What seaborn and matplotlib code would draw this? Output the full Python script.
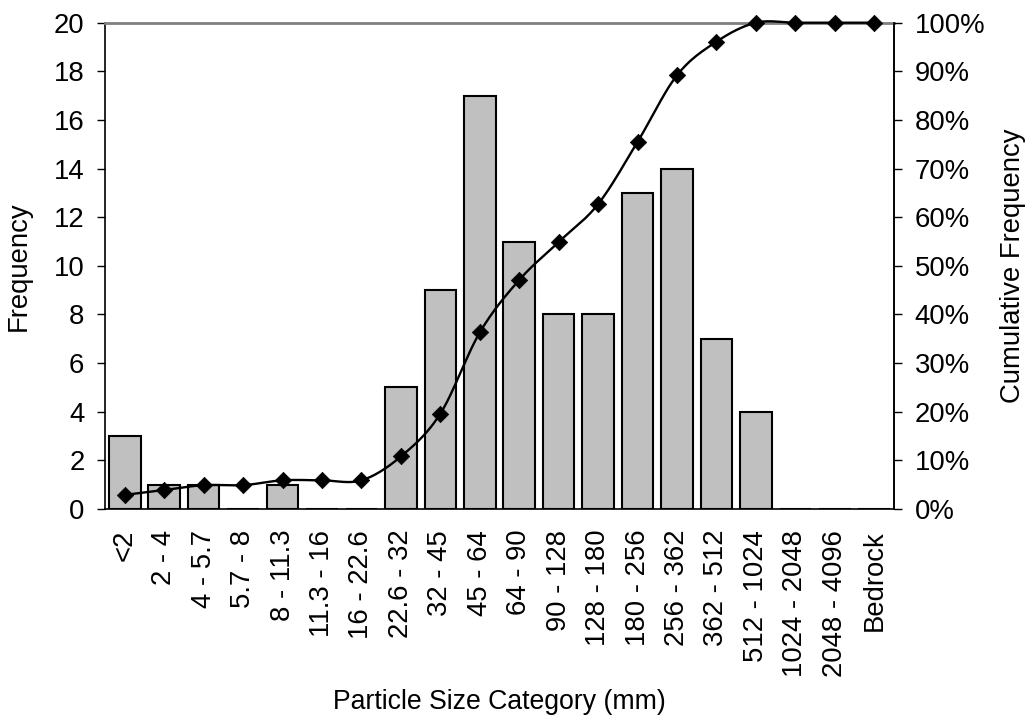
import numpy as np
import pandas as pd
import matplotlib
matplotlib.use("Agg")
import matplotlib.pyplot as plt
import matplotlib.ticker as mticker
import seaborn as sns

# particle size classes (mm)
categories = ['<2', '2 - 4', '4 - 5.7', '5.7 - 8', '8 - 11.3', '11.3 - 16',
              '16 - 22.6', '22.6 - 32', '32 - 45', '45 - 64', '64 - 90',
              '90 - 128', '128 - 180', '180 - 256', '256 - 362', '362 - 512',
              '512 - 1024', '1024 - 2048', '2048 - 4096', 'Bedrock']
frequency = [3, 1, 1, 0, 1, 0, 0, 5, 9, 17, 11, 8, 8, 13, 14, 7, 4, 0, 0, 0]
cumulative = [0.029, 0.039, 0.049, 0.049, 0.059, 0.059, 0.059, 0.108, 0.196,
              0.363, 0.471, 0.549, 0.627, 0.755, 0.892, 0.961, 1.0, 1.0, 1.0, 1.0]

df = pd.DataFrame({'Category': categories, 'Frequency': frequency,
                   'Cumulative': cumulative})

FS = 19.8

sns.set_style("white")
plt.rcParams['font.family'] = ['Liberation Sans', 'DejaVu Sans']
plt.rcParams['font.size'] = FS
plt.rcParams['text.color'] = 'black'
plt.rcParams['axes.labelcolor'] = 'black'
plt.rcParams['xtick.color'] = 'black'
plt.rcParams['ytick.color'] = 'black'

fig = plt.figure(figsize=(10.32, 7.23), dpi=100)
ax = fig.add_axes([105 / 1032, 1 - 509 / 723, 789 / 1032, 486.3 / 723])

sns.barplot(data=df, x='Category', y='Frequency', order=categories,
            color='#c0c0c0', saturation=1, edgecolor='black', linewidth=1.5,
            width=0.8, ax=ax)
ax.set_xlim(-0.5, len(categories) - 0.5)
ax.set_ylim(0, 20)
ax.set_yticks(np.arange(0, 21, 2))

# x axis: labels at centres, ticks between categories
ax.set_xticks(range(len(categories)))
ax.set_xticklabels(categories, rotation=90)
ax.set_xticks(np.arange(-0.5, len(categories), 1), minor=True)
ax.tick_params(axis='x', which='major', length=0, pad=15, labelsize=FS)
ax.tick_params(axis='x', which='minor', direction='inout', length=12,
               width=1, color='black')
ax.tick_params(axis='y', direction='out', length=5.8, width=1,
               color='black', pad=9, labelsize=FS, left=True)

for side in ['left', 'bottom', 'right']:
    ax.spines[side].set_color('black')
    ax.spines[side].set_linewidth(1.2)
ax.spines['top'].set_color('#808080')
ax.spines['top'].set_linewidth(2)

ax.set_xlabel('Particle Size Category (mm)', fontsize=19.2)
ax.xaxis.set_label_coords(0.5, -(689 - 509) / 486.3)
ax.set_ylabel('Frequency', fontsize=FS)
ax.yaxis.set_label_coords(-(105 - 32) / 789, 0.5)

# cumulative curve on secondary axis
ax2 = ax.twinx()
ax2.set_ylim(0, 1)
ax2.set_yticks(np.arange(0, 1.01, 0.1))
ax2.yaxis.set_major_formatter(mticker.PercentFormatter(1.0, decimals=0))
ax2.tick_params(axis='y', direction='out', length=5.8, width=1,
                color='black', pad=9, labelsize=FS, right=True)
for s in ax2.spines.values():
    s.set_visible(False)
ax2.spines['right'].set_visible(True)
ax2.spines['right'].set_color('black')
ax2.spines['right'].set_linewidth(1.2)

# smoothed line like a spreadsheet "smoothed line" (bezier through points)
sx, sy = 39.45, 486.3
px = np.arange(len(categories)) * sx
py = np.array(cumulative) * sy
pts = np.column_stack([px, py])
padded = np.vstack([pts[0], pts, pts[-1]])
tt = np.linspace(0, 1, 25)
curve = []
for i in range(len(pts) - 1):
    p0, p1, p2, p3 = padded[i], padded[i + 1], padded[i + 2], padded[i + 3]
    c1 = p1 + (p2 - p0) / 6
    c2 = p2 - (p3 - p1) / 6
    seg = ((1 - tt)[:, None] ** 3 * p1 + 3 * ((1 - tt) ** 2 * tt)[:, None] * c1
           + 3 * ((1 - tt) * tt ** 2)[:, None] * c2 + (tt ** 3)[:, None] * p2)
    curve.append(seg if i == 0 else seg[1:])
curve = np.vstack(curve)
smooth = pd.DataFrame({'x': curve[:, 0] / sx, 'y': curve[:, 1] / sy})

sns.lineplot(data=smooth, x='x', y='y', sort=False, estimator=None,
             color='black', linewidth=1.7, ax=ax2, clip_on=False)
sns.scatterplot(x=np.arange(len(categories)), y=cumulative, marker='D',
                s=70, color='black', edgecolor='black', linewidth=0.5,
                ax=ax2, clip_on=False, zorder=5)
ax2.set_xlim(-0.5, len(categories) - 0.5)
ax2.set_xlabel('')
ax2.set_ylabel('Cumulative Frequency', fontsize=FS)
ax2.yaxis.set_label_coords((1000 - 105) / 789, 0.5)

fig.savefig('out.png', dpi=100)
